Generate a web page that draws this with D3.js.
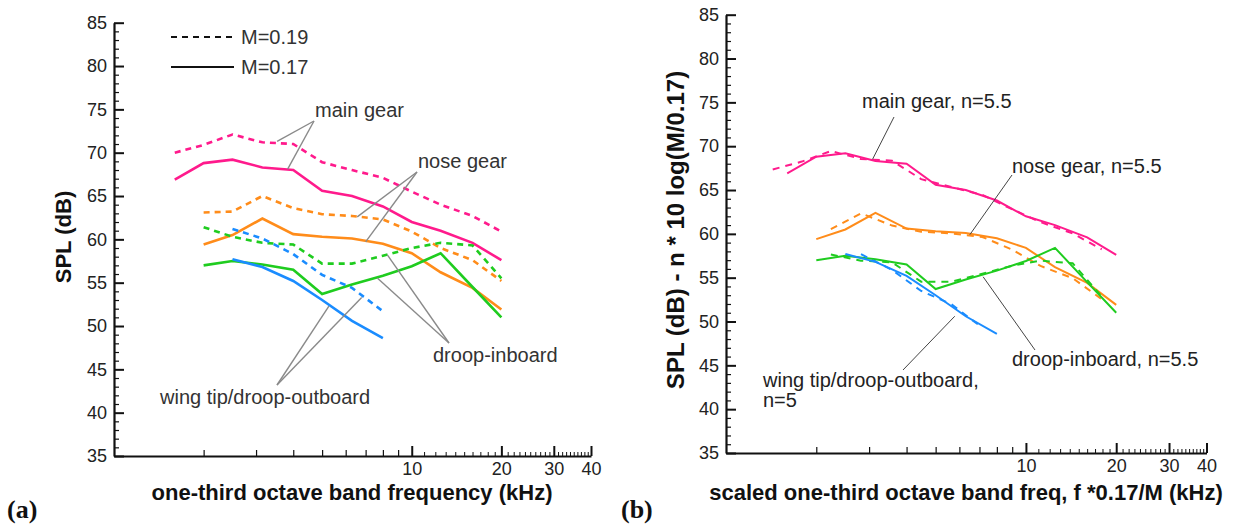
<!DOCTYPE html>
<html>
<head>
<meta charset="utf-8">
<script src="https://cdn.jsdelivr.net/npm/d3@7"></script>
<style>
    html, body { margin: 0; padding: 0; background: #fff; }
    svg { display: block; }
    text { font-family: "Liberation Sans", Arial, sans-serif; fill: #222; }
    .title { font-weight: bold; fill: #111; }
    .panel-tag { font-family: "Liberation Serif", "Times New Roman", serif; font-weight: bold; font-size: 26px; fill: #111; }
</style>
</head>
<body>
<div id="chart"></div>
<script>
// one-third octave band centre frequencies (kHz)
const bands = [1.6, 2, 2.5, 3.15, 4, 5, 6.3, 8, 10, 12.5, 16, 20];

// SPL (dB); null = band not plotted
const mainGear17 = [66.9, 68.8, 69.2, 68.3, 68.0, 65.6, 65.0, 63.8, 62.0, 61.0, 59.6, 57.6];
const mainGear19 = [70.0, 70.9, 72.1, 71.2, 71.0, 68.9, 68.0, 67.1, 65.5, 64.0, 62.7, 60.9];
const noseGear17 = [null, 59.4, 60.5, 62.4, 60.6, 60.3, 60.1, 59.5, 58.4, 56.2, 54.4, 51.9];
const noseGear19 = [null, 63.1, 63.2, 65.0, 63.6, 62.9, 62.7, 62.3, 60.9, 59.0, 57.6, 55.2];
const droopIn17 = [null, 57.0, 57.5, 57.1, 56.5, 53.7, 54.8, 55.8, 56.9, 58.4, 54.5, 51.0];
const droopIn19 = [null, 61.4, 60.3, 59.6, 59.4, 57.2, 57.2, 58.1, 59.0, 59.6, 59.3, 55.5];
const wingTip17 = [null, null, 57.7, 56.8, 55.2, 53.0, 50.6, 48.6, null, null, null, null];
const wingTip19 = [null, null, 61.2, 60.1, 58.3, 55.9, 54.4, 51.7, null, null, null, null];

const components = ['main gear', 'nose gear', 'droop-inboard', 'wing tip/droop-outboard'];
const colors = ['#ff1a8c', '#ff8c1a', '#1fcc1f', '#1a8cff'];
const velocityExponent = [5.5, 5.5, 5.5, 5];
// first band drawn for the scaled M=0.19 curves in panel (b)
const scaledFrom = [1.6, 2.5, 2.5, 3.15];

const machs = [0.19, 0.17];
const machRef = 0.17;

const yTicks = [35, 40, 45, 50, 55, 60, 65, 70, 75, 80, 85];
const xTicks = [10, 20, 30, 40];

const series17 = [mainGear17, noseGear17, droopIn17, wingTip17];
const series19 = [mainGear19, noseGear19, droopIn19, wingTip19];

const width = 1242, height = 527;

const svg = d3.select('#chart').append('svg')
    .attr('width', width)
    .attr('height', height);

svg.append('rect').attr('width', width).attr('height', height).attr('fill', '#fff');

function toPoints(values, mach, n, fromBand) {
    const s = mach / machRef;
    return bands.map((f, i) => ({ f: f, v: values[i] }))
        .filter(d => d.v !== null && (fromBand === undefined || d.f >= fromBand))
        .map(d => ({ f: d.f / s, v: d.v - n * 10 * Math.log10(s) }));
}

function drawPanel(cfg) {
    const g = svg.append('g');
    const x = d3.scaleLog().domain([1, 40]).range([cfg.x0, cfg.x1]);
    const y = d3.scaleLinear().domain([35, 85]).range([cfg.y0, cfg.y1]);

    // minor ticks
    const yMinor = d3.range(36, 85).filter(v => v % 5 !== 0);
    g.append('g')
        .attr('transform', `translate(${cfg.x0},0)`)
        .call(d3.axisLeft(y).tickValues(yMinor).tickSize(-5).tickFormat('').tickSizeOuter(0))
        .call(a => a.select('.domain').remove())
        .call(a => a.selectAll('line').attr('stroke', '#111').attr('stroke-width', 1.2));

    const xMid = [2, 3, 4, 5, 6, 7, 8, 9];
    const xSmall = d3.range(11, 40).filter(v => v % 10 !== 0);
    g.append('g')
        .attr('transform', `translate(0,${cfg.y0})`)
        .call(d3.axisBottom(x).tickValues(xMid).tickSize(-6).tickFormat('').tickSizeOuter(0))
        .call(a => a.select('.domain').remove())
        .call(a => a.selectAll('line').attr('stroke', '#111').attr('stroke-width', 1.2));
    g.append('g')
        .attr('transform', `translate(0,${cfg.y0})`)
        .call(d3.axisBottom(x).tickValues(xSmall).tickSize(-4).tickFormat('').tickSizeOuter(0))
        .call(a => a.select('.domain').remove())
        .call(a => a.selectAll('line').attr('stroke', '#111').attr('stroke-width', 1));

    // major axes
    g.append('g')
        .attr('transform', `translate(${cfg.x0},0)`)
        .call(d3.axisLeft(y).tickValues(yTicks).tickSize(-10).tickPadding(7).tickSizeOuter(0))
        .call(a => a.select('.domain').attr('stroke', '#111').attr('stroke-width', 2.2))
        .call(a => a.selectAll('line').attr('stroke', '#111').attr('stroke-width', 2))
        .call(a => a.selectAll('text').attr('font-size', 18).attr('fill', '#222'));

    g.append('g')
        .attr('transform', `translate(0,${cfg.y0})`)
        .call(d3.axisBottom(x).tickValues(xTicks).tickFormat(d3.format('d')).tickSize(-10).tickPadding(6).tickSizeOuter(0))
        .call(a => a.select('.domain').attr('stroke', '#111').attr('stroke-width', 2.2))
        .call(a => a.selectAll('line').attr('stroke', '#111').attr('stroke-width', 2))
        .call(a => a.selectAll('text').attr('font-size', 18).attr('fill', '#222'));

    // curves
    const line = d3.line().x(d => x(d.f)).y(d => y(d.v));
    components.forEach((c, i) => {
        const n = cfg.scaled ? velocityExponent[i] : 0;
        const pts19 = toPoints(series19[i], cfg.scaled ? machs[0] : machRef, n, cfg.scaled ? scaledFrom[i] : undefined);
        const pts17 = toPoints(series17[i], machs[1], n);
        g.append('path').datum(pts19)
            .attr('d', line).attr('fill', 'none')
            .attr('stroke', colors[i]).attr('stroke-width', cfg.lw)
            .attr('stroke-dasharray', cfg.dash);
        g.append('path').datum(pts17)
            .attr('d', line).attr('fill', 'none')
            .attr('stroke', colors[i]).attr('stroke-width', cfg.lw);
    });

    // annotations: text + leader lines to points on the curves
    cfg.notes.forEach(nt => {
        nt.targets.forEach(t => {
            g.append('line')
                .attr('x1', nt.from[0]).attr('y1', nt.from[1])
                .attr('x2', x(t[0])).attr('y2', y(t[1]))
                .attr('stroke', cfg.leader).attr('stroke-width', cfg.leaderW);
        });
        const tx = g.append('text')
            .attr('x', nt.at[0]).attr('y', nt.at[1])
            .attr('font-size', 20).style('fill', cfg.noteColor);
        nt.text.forEach((s, k) => {
            tx.append('tspan').attr('x', nt.at[0]).attr('dy', k === 0 ? 0 : 20).text(s);
        });
    });

    // axis titles
    g.append('text').attr('class', 'title')
        .attr('x', cfg.xTitle[0]).attr('y', cfg.xTitle[1])
        .attr('text-anchor', 'middle').attr('font-size', 22)
        .text(cfg.xLabel);
    g.append('text').attr('class', 'title')
        .attr('transform', `translate(${cfg.yTitle[0]},${cfg.yTitle[1]}) rotate(-90)`)
        .attr('text-anchor', 'middle').attr('font-size', cfg.yFont)
        .text(cfg.yLabel);

    g.append('text').attr('class', 'panel-tag')
        .attr('x', cfg.tag[0]).attr('y', cfg.tag[1])
        .text(cfg.tagText);

    return { x, y, g };
}

const a = drawPanel({
    x0: 114, x1: 591, y0: 456, y1: 22.7,
    scaled: false, lw: 2.6, dash: '6,5',
    leader: '#8a8a8a', leaderW: 1.4, noteColor: '#333',
    xLabel: 'one-third octave band frequency (kHz)', xTitle: [352, 500],
    yLabel: 'SPL (dB)', yTitle: [71, 237], yFont: 22,
    tag: [7, 518], tagText: '(a)',
    notes: [
        { text: ['main gear'], at: [315, 117], from: [314, 121], targets: [[3.53, 71.3], [3.83, 68.1]] },
        { text: ['nose gear'], at: [418, 168], from: [417, 172], targets: [[6.56, 62.6], [7.0, 59.7]] },
        { text: ['droop-inboard'], at: [433, 362], from: [449, 343], targets: [[8.28, 58.2], [7.66, 55.55]] },
        { text: ['wing tip/droop-outboard'], at: [160, 404], from: [277, 385], targets: [[5.27, 52.3], [6.79, 53.3]] }
    ]
});

// legend (panel a)
const legend = a.g.append('g');
[[machs[0], '6,5', 37], [machs[1], null, 67]].forEach(([m, dash, ly]) => {
    legend.append('line')
        .attr('x1', 171).attr('x2', 234).attr('y1', ly).attr('y2', ly)
        .attr('stroke', '#111').attr('stroke-width', 2.2)
        .attr('stroke-dasharray', dash);
    legend.append('text')
        .attr('x', 241).attr('y', ly + 7)
        .attr('font-size', 20).style('fill', '#333')
        .text(`M=${m}`);
});

drawPanel({
    x0: 726, x1: 1206.5, y0: 453, y1: 14.7,
    scaled: true, lw: 2, dash: '7,6',
    leader: '#444', leaderW: 1, noteColor: '#222',
    xLabel: 'scaled one-third octave band freq, f *0.17/M (kHz)', xTitle: [966, 500],
    yLabel: 'SPL (dB) - n * 10 log(M/0.17)', yTitle: [684, 230], yFont: 24,
    tag: [621, 518], tagText: '(b)',
    notes: [
        { text: ['main gear, n=5.5'], at: [862, 108], from: [894, 117], targets: [[3.08, 68.5]] },
        { text: ['nose gear, n=5.5'], at: [1012, 173], from: [1012, 175], targets: [[6.5, 59.9]] },
        { text: ['droop-inboard, n=5.5'], at: [1012, 366], from: [1035, 350], targets: [[7.2, 55.1]] },
        { text: ['wing tip/droop-outboard,', 'n=5'], at: [763, 387], from: [903, 370], targets: [[5.79, 50.6]] }
    ]
});
</script>
</body>
</html>
